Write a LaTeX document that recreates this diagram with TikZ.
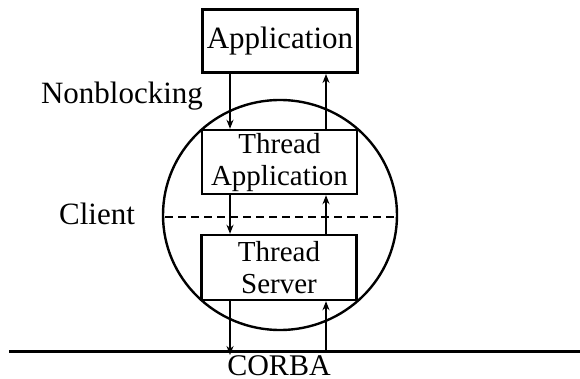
\documentclass[tikz,border=0pt]{standalone}
\usepackage{fontspec}
\setmainfont{Liberation Serif}
\usetikzlibrary{arrows.meta}
\begin{document}
\begin{tikzpicture}[x=1pt,y=-1pt,
  lbl/.style={font=\fontsize{31}{34}\selectfont, inner sep=0pt},
  inlbl/.style={font=\fontsize{29}{32}\selectfont, align=center, inner sep=0pt},
  box/.style={draw, line width=2.4pt, minimum width=155pt, inner sep=0pt},
  flow/.style={line width=2.4pt, -{Stealth[length=9pt,width=7pt]}}]
\useasboundingbox (0,0) rectangle (580,379);

% client sphere and its dividing line
\draw[line width=2.4pt] (280,215) ellipse [x radius=117, y radius=115];
\draw[line width=2.4pt, dash pattern=on 8pt off 5pt] (165,217) -- (396,217);

% boxes
\node[box, line width=3pt, minimum height=63pt] (app) at (280,41) {};
\node[lbl] at (280,41) {Application};
\node[box, minimum height=64pt] (tapp) at (279.5,162) {};
\node[inlbl] at (279.5,163) {Thread\\Application};
\node[box, minimum height=65pt] (tsrv) at (279,267.5) {};
\node[inlbl] at (279,268) {Thread\\Server};

% bus line
\coordinate (busL) at (9,351);
\coordinate (busR) at (580,351);
\draw[line width=3pt] (busL) -- (busR);
\coordinate (busA) at (230,351);
\coordinate (busB) at (326,351);

% labels
\node[lbl] (nb) at (122,96) {Nonblocking};
\node[lbl] (cl) at (97,214) {Client};
\node[lbl, font=\fontsize{30}{32}\selectfont] (corba) at (279,366) {CORBA};

% arrows
\draw[flow] (app.south -| busA) -- (tapp.north -| busA);
\draw[flow] (tapp.north -| busB) -- (app.south -| busB);
\draw[flow] (tapp.south -| busA) -- (tsrv.north -| busA);
\draw[flow] (tsrv.north -| busB) -- (tapp.south -| busB);
\draw[flow] (tsrv.south -| busA) -- ([yshift=-4pt]busA);
\draw[flow] (busB) -- (tsrv.south -| busB);
\end{tikzpicture}
\end{document}
